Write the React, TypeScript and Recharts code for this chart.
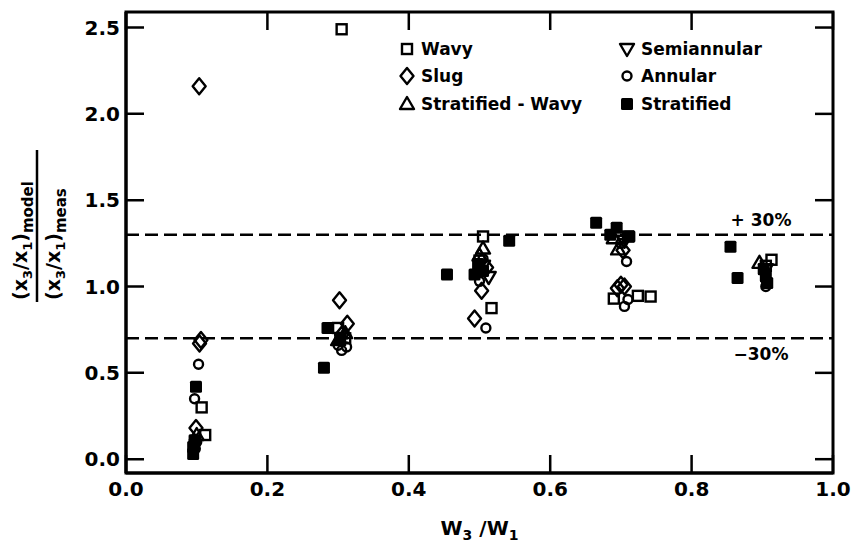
import React from 'react';
import { ScatterChart, Scatter, XAxis, YAxis, ReferenceLine, ReferenceArea, Legend } from 'recharts';

// Flow-regime measurements: x = W3/W1, y = (x3/x1)model / (x3/x1)meas
const wavy = [
  { x: 0.305, y: 2.49 }, { x: 0.107, y: 0.30 }, { x: 0.112, y: 0.14 },
  { x: 0.300, y: 0.76 }, { x: 0.310, y: 0.70 }, { x: 0.505, y: 1.29 },
  { x: 0.517, y: 0.875 }, { x: 0.500, y: 1.15 }, { x: 0.690, y: 0.93 },
  { x: 0.724, y: 0.946 }, { x: 0.742, y: 0.942 }, { x: 0.710, y: 1.29 },
  { x: 0.913, y: 1.155 }, { x: 0.905, y: 1.12 },
];
const slug = [
  { x: 0.1035, y: 2.16 }, { x: 0.104, y: 0.67 }, { x: 0.106, y: 0.69 },
  { x: 0.099, y: 0.18 }, { x: 0.302, y: 0.92 }, { x: 0.313, y: 0.785 },
  { x: 0.305, y: 0.72 }, { x: 0.503, y: 0.975 }, { x: 0.493, y: 0.815 },
  { x: 0.510, y: 1.11 }, { x: 0.703, y: 1.21 }, { x: 0.700, y: 1.01 },
  { x: 0.695, y: 0.99 }, { x: 0.705, y: 1.00 },
];
const stratifiedWavy = [
  { x: 0.100, y: 0.14 }, { x: 0.310, y: 0.73 }, { x: 0.300, y: 0.69 },
  { x: 0.505, y: 1.22 }, { x: 0.500, y: 1.18 }, { x: 0.696, y: 1.215 },
  { x: 0.690, y: 1.28 }, { x: 0.896, y: 1.137 },
];
const semiannular = [
  { x: 0.513, y: 1.055 }, { x: 0.505, y: 1.12 }, { x: 0.705, y: 1.265 },
  { x: 0.905, y: 1.10 },
];
const annular = [
  { x: 0.1026, y: 0.55 }, { x: 0.097, y: 0.35 }, { x: 0.100, y: 0.10 },
  { x: 0.098, y: 0.06 }, { x: 0.300, y: 0.66 }, { x: 0.305, y: 0.63 },
  { x: 0.312, y: 0.65 }, { x: 0.302, y: 0.69 }, { x: 0.509, y: 0.76 },
  { x: 0.505, y: 1.16 }, { x: 0.500, y: 1.03 }, { x: 0.708, y: 1.145 },
  { x: 0.710, y: 0.925 }, { x: 0.705, y: 0.885 }, { x: 0.700, y: 1.25 },
  { x: 0.905, y: 1.00 }, { x: 0.905, y: 1.04 },
];
const stratified = [
  { x: 0.099, y: 0.42 }, { x: 0.095, y: 0.07 }, { x: 0.095, y: 0.03 },
  { x: 0.097, y: 0.11 }, { x: 0.285, y: 0.76 }, { x: 0.280, y: 0.53 },
  { x: 0.303, y: 0.70 }, { x: 0.454, y: 1.07 }, { x: 0.493, y: 1.07 },
  { x: 0.542, y: 1.265 }, { x: 0.498, y: 1.13 }, { x: 0.505, y: 1.09 },
  { x: 0.665, y: 1.37 }, { x: 0.694, y: 1.34 }, { x: 0.712, y: 1.29 },
  { x: 0.685, y: 1.30 }, { x: 0.855, y: 1.23 }, { x: 0.865, y: 1.05 },
  { x: 0.902, y: 1.10 }, { x: 0.905, y: 1.06 }, { x: 0.907, y: 1.02 },
];

const xDomain: [number, number] = [0, 1];
const yDomain: [number, number] = [-0.08, 2.59];
const xTicks = [0, 0.2, 0.4, 0.6, 0.8, 1.0];
const yTicks = [0, 0.5, 1.0, 1.5, 2.0, 2.5];
const bandUpper = 1.3;
const bandLower = 0.7;
const bandUpperText = '+ 30%';
const bandLowerText = '\u221230%';

type Kind = 'square' | 'diamond' | 'triUp' | 'triDown' | 'circle' | 'filled';

const legendColumns: { kind: Kind; name: string }[][] = [
  [
    { kind: 'square', name: 'Wavy' },
    { kind: 'diamond', name: 'Slug' },
    { kind: 'triUp', name: 'Stratified - Wavy' },
  ],
  [
    { kind: 'triDown', name: 'Semiannular' },
    { kind: 'circle', name: 'Annular' },
    { kind: 'filled', name: 'Stratified' },
  ],
];

const INK = '#000';
const FONT = '"DejaVu Sans", sans-serif';
const SW = 2.4;

// Chart frame geometry
const W = 851;
const H = 543;
const MARGIN = { top: 12, right: 18, bottom: 0, left: 0 };
const X_AXIS_H = 70;
const Y_AXIS_W = 126;
const PLOT_RIGHT = W - MARGIN.right;
const PLOT_TOP = MARGIN.top;
const PLOT_BOTTOM = H - MARGIN.bottom - X_AXIS_H;
const TICK_LEN = 18;
const TICK_W = 2.5;
const X_GAP = 8;
const Y_GAP = 6;

function Marker({ kind, cx, cy }: { kind: Kind; cx: number; cy: number }) {
  switch (kind) {
    case 'square':
      return <rect x={cx - 5} y={cy - 5} width={10} height={10} fill="none" stroke={INK} strokeWidth={SW} />;
    case 'diamond':
      return (
        <polygon
          points={`${cx},${cy - 8} ${cx + 6.5},${cy} ${cx},${cy + 8} ${cx - 6.5},${cy}`}
          fill="none" stroke={INK} strokeWidth={SW} strokeLinejoin="round"
        />
      );
    case 'triUp':
      return (
        <polygon
          points={`${cx},${cy - 7} ${cx + 7},${cy + 5} ${cx - 7},${cy + 5}`}
          fill="none" stroke={INK} strokeWidth={SW} strokeLinejoin="round"
        />
      );
    case 'triDown':
      return (
        <polygon
          points={`${cx - 7},${cy - 5} ${cx + 7},${cy - 5} ${cx},${cy + 7}`}
          fill="none" stroke={INK} strokeWidth={SW} strokeLinejoin="round"
        />
      );
    case 'circle':
      return <circle cx={cx} cy={cy} r={4.5} fill="none" stroke={INK} strokeWidth={SW} />;
    default:
      return <rect x={cx - 6} y={cy - 6} width={12} height={12} rx={1.5} fill={INK} />;
  }
}

const shapeOf = (kind: Kind) => (p: any) => <Marker kind={kind} cx={p.cx} cy={p.cy} />;

// x ticks: label below the frame, inward marks on bottom and top edges
function XTick(props: any) {
  const { x, y, payload } = props;
  const cx = Number(x);
  return (
    <g>
      <path
        d={`M${cx},${PLOT_BOTTOM} L${cx},${PLOT_BOTTOM - TICK_LEN} M${cx},${PLOT_TOP} L${cx},${PLOT_TOP + TICK_LEN}`}
        stroke={INK} strokeWidth={TICK_W} fill="none"
      />
      <text x={cx} y={y} dy="0.75em" textAnchor="middle" fontFamily={FONT} fontWeight="bold" fontSize={20} fill={INK}>
        {Number(payload.value).toFixed(1)}
      </text>
    </g>
  );
}

// y ticks: label left of the frame, inward mark on the right edge
function YTick(props: any) {
  const { x, y, payload } = props;
  const cy = Number(y);
  return (
    <g>
      <path d={`M${PLOT_RIGHT},${cy} L${PLOT_RIGHT - TICK_LEN},${cy}`} stroke={INK} strokeWidth={TICK_W} fill="none" />
      <text x={x} y={cy} dy="0.36em" textAnchor="end" fontFamily={FONT} fontWeight="bold" fontSize={20} fill={INK}>
        {Number(payload.value).toFixed(1)}
      </text>
    </g>
  );
}

// plot frame, with the inward tick marks along its left edge
function FrameShape(props: any) {
  const x = Number(props.x);
  const y = Number(props.y);
  const width = Number(props.width);
  const height = Number(props.height);
  const span = yDomain[1] - yDomain[0];
  const d = yTicks
    .map((v) => {
      const py = y + (height * (yDomain[1] - v)) / span;
      return `M${x},${py} L${x + TICK_LEN},${py}`;
    })
    .join(' ');
  return (
    <g>
      <rect x={x} y={y} width={width} height={height} fill="none" stroke={INK} strokeWidth={3} />
      <path d={d} stroke={INK} strokeWidth={TICK_W} fill="none" />
    </g>
  );
}

function LegendBox() {
  const colX = [12, 232];
  const rowY = [19, 46, 74];
  return (
    <svg width={380} height={100} style={{ display: 'block' }}>
      {legendColumns.map((col, ci) =>
        col.map((item, ri) => (
          <g key={`${ci}-${ri}`}>
            <Marker kind={item.kind} cx={colX[ci]} cy={rowY[ri]} />
            <text x={colX[ci] + 14} y={rowY[ri] + 6} fontFamily={FONT} fontWeight="bold" fontSize={17} fill={INK}>
              {item.name}
            </text>
          </g>
        )),
      )}
    </svg>
  );
}

function RatioTitle() {
  const bottom = 300;
  const line = (x: number, sub: string) => (
    <text
      x={x}
      y={bottom}
      transform={`rotate(-90, ${x}, ${bottom})`}
      fontFamily={FONT}
      fontWeight="bold"
      fontSize={19}
      fill={INK}
    >
      (x<tspan fontSize={13} dy={5}>3</tspan>
      <tspan dy={-5}>/x</tspan>
      <tspan fontSize={13} dy={5}>1</tspan>
      <tspan dy={-5}>)</tspan>
      <tspan fontSize={15} dy={6}>{sub}</tspan>
    </text>
  );
  return (
    <g>
      {line(27, 'model')}
      <line x1={37} y1={bottom + 2} x2={37} y2={150} stroke={INK} strokeWidth={2.5} />
      {line(60, 'meas')}
    </g>
  );
}

// axis titles: W3/W1 under the x axis, the model/measured ratio left of the y axis
function AxisTitles(props: any) {
  const vb = props.viewBox || { x: 0, y: 0, width: 0 };
  return (
    <g>
      <text x={vb.x + vb.width / 2} y={vb.y + 62} textAnchor="middle" fontFamily={FONT} fontWeight="bold" fontSize={20} fill={INK}>
        W<tspan fontSize={14} dy={5}>3</tspan>
        <tspan dy={-5}> /W</tspan>
        <tspan fontSize={14} dy={5}>1</tspan>
      </text>
      <RatioTitle />
    </g>
  );
}

const bandLabel = (text: string, dy: number) => (props: any) => {
  const vb = props.viewBox || { x: 0, y: 0, width: 0 };
  return (
    <text x={vb.x + vb.width - 72} y={vb.y + dy} textAnchor="middle" fontFamily={FONT} fontWeight="bold" fontSize={17} fill={INK}>
      {text}
    </text>
  );
};

const axisLine = { stroke: INK, strokeWidth: 3 };

export default function App() {
  return (
    <div style={{ position: 'absolute', left: 0, top: 0, width: W, height: H, background: '#fff' }}>
      <ScatterChart width={W} height={H} margin={MARGIN}>
        <XAxis
          xAxisId="b" type="number" dataKey="x" domain={xDomain} ticks={xTicks} interval={0}
          height={X_AXIS_H} tickSize={0} tickMargin={X_GAP} axisLine={axisLine} tickLine={false}
          tick={<XTick />} label={<AxisTitles />}
        />
        <YAxis
          yAxisId="l" type="number" dataKey="y" domain={yDomain} ticks={yTicks} interval={0}
          width={Y_AXIS_W} tickSize={0} tickMargin={Y_GAP} axisLine={axisLine} tickLine={false}
          tick={<YTick />} allowDataOverflow
        />
        <ReferenceArea
          xAxisId="b" yAxisId="l" x1={xDomain[0]} x2={xDomain[1]} y1={yDomain[0]} y2={yDomain[1]}
          fill="none" fillOpacity={0} stroke={INK} strokeWidth={3} ifOverflow="visible"
          shape={<FrameShape />}
        />
        <ReferenceLine
          xAxisId="b" yAxisId="l" y={bandUpper} stroke={INK} strokeWidth={2.5} strokeDasharray="13 6"
          label={bandLabel(bandUpperText, -9)}
        />
        <ReferenceLine
          xAxisId="b" yAxisId="l" y={bandLower} stroke={INK} strokeWidth={2.5} strokeDasharray="13 6"
          label={bandLabel(bandLowerText, 22)}
        />
        <Scatter name="Wavy" xAxisId="b" yAxisId="l" data={wavy} shape={shapeOf('square')} isAnimationActive={false} />
        <Scatter name="Slug" xAxisId="b" yAxisId="l" data={slug} shape={shapeOf('diamond')} isAnimationActive={false} />
        <Scatter name="Stratified - Wavy" xAxisId="b" yAxisId="l" data={stratifiedWavy} shape={shapeOf('triUp')} isAnimationActive={false} />
        <Scatter name="Semiannular" xAxisId="b" yAxisId="l" data={semiannular} shape={shapeOf('triDown')} isAnimationActive={false} />
        <Scatter name="Annular" xAxisId="b" yAxisId="l" data={annular} shape={shapeOf('circle')} isAnimationActive={false} />
        <Scatter name="Stratified" xAxisId="b" yAxisId="l" data={stratified} shape={shapeOf('filled')} isAnimationActive={false} />
        <Legend
          layout="horizontal" verticalAlign="middle" align="center"
          wrapperStyle={{ left: 395, top: 30, width: 380, height: 100 }}
          content={() => <LegendBox />}
        />
      </ScatterChart>
    </div>
  );
}
